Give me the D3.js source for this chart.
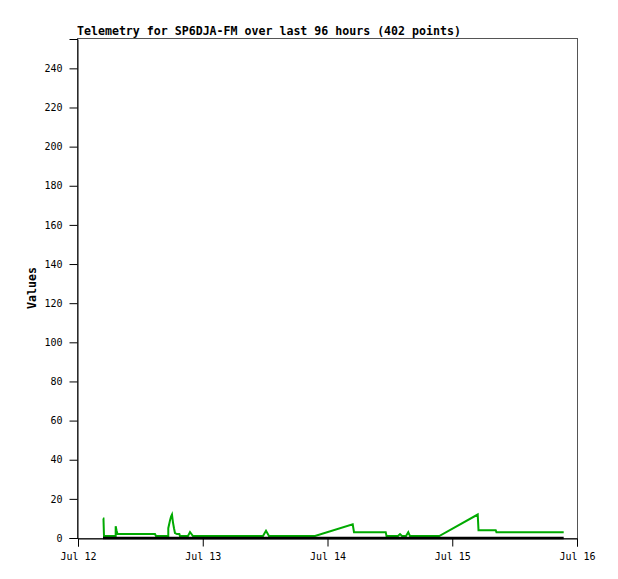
<!DOCTYPE html>
<html><head><meta charset="utf-8">
<script src="https://cdn.jsdelivr.net/npm/d3@7"></script>
<style>body{margin:0;background:#fff}</style>
</head><body>
<svg id="c" width="618" height="579"></svg>
<script>
const title = "Telemetry for SP6DJA-FM over last 96 hours (402 points)";
const yLabel = "Values";
const startDate = new Date(2024, 6, 12, 0, 0);
const endDate = new Date(2024, 6, 16, 0, 0);
const xTickLabels = ["Jul 12", "Jul 13", "Jul 14", "Jul 15", "Jul 16"];
const yTicks = [0, 20, 40, 60, 80, 100, 120, 140, 160, 180, 200, 220, 240];
const yMax = 255;
// green series: hours since Jul 12 00:00, values
const greenHours = [4.81, 4.9, 5.0, 7.25, 7.25, 7.4, 7.6, 14.81, 15.0, 17.37, 17.37, 17.7, 17.9, 18.08, 18.27, 18.47, 18.66, 19.05, 19.5, 19.62, 21.16, 21.55, 22.12, 35.59, 36.17, 36.74, 45.6, 52.85, 53.1, 59.2, 59.35, 61.56, 61.95, 62.33, 63.1, 63.54, 63.87, 69.5, 76.9, 77.05, 80.36, 80.5, 93.44];
const greenValues = [10, 10, 1, 1, 6, 4, 2, 2, 1, 1, 5, 9, 11, 12, 8, 5, 2.5, 2, 2, 1, 1, 3, 1, 1, 3.7, 1, 1, 7, 3, 3, 1, 1, 2, 1, 1, 3, 1, 1, 12, 4, 4, 3, 3];
// black series
const blackHours = [4.81, 93.44];
const blackValues = [0, 0];

const svg = d3.select("#c");
const L = 77, R = 577, T = 38, B = 538;
const x = d3.scaleTime().domain([startDate, endDate]).range([L + 1, R]);
const y = d3.scaleLinear().domain([0, yMax]).range([B, T + 1]);
const toDate = h => new Date(startDate.getTime() + h * 3600e3);

svg.append("text").attr("x", 77).attr("y", 35)
  .attr("font-family", "DejaVu Sans Mono, monospace").attr("font-weight", "bold")
  .attr("font-size", "11.6px").attr("fill", "#000").text(title);

svg.append("rect").attr("x", L + 0.5).attr("y", T + 0.5).attr("width", R - L).attr("height", B - T)
  .attr("fill", "none").attr("stroke", "#555");

const line = d3.line().x(d => x(toDate(d[0]))).y(d => y(d[1]));
svg.append("path").datum(greenHours.map((h, i) => [h, greenValues[i]]))
  .attr("d", line).attr("fill", "none").attr("stroke", "#00aa00").attr("stroke-width", 2);
svg.append("path").datum(blackHours.map((h, i) => [h, blackValues[i]]))
  .attr("d", line).attr("fill", "none").attr("stroke", "#000").attr("stroke-width", 2.5);

const yAxis = d3.axisLeft(y).tickValues(yTicks).tickSize(8).tickPadding(7);
const gy = svg.append("g").attr("transform", `translate(${L + 0.5},0)`).call(yAxis);
gy.select(".domain").attr("stroke", "#000");
gy.selectAll("text").attr("font-family", "DejaVu Sans Mono, monospace").attr("font-size", "10px").attr("fill", "#000");

const xTickDates = xTickLabels.map((_, i) => new Date(startDate.getTime() + i * 86400e3));
const xAxis = d3.axisBottom(x).tickValues(xTickDates).tickFormat((d, i) => xTickLabels[i]).tickSize(8).tickPadding(6);
const gx = svg.append("g").attr("transform", `translate(0,${B + 0.5})`).call(xAxis);
gx.select(".domain").attr("stroke", "#000");
gx.selectAll("text").attr("font-family", "DejaVu Sans Mono, monospace").attr("font-size", "10px").attr("fill", "#000");

svg.append("text").attr("transform", `translate(36,${(T + B) / 2}) rotate(-90)`)
  .attr("text-anchor", "middle")
  .attr("font-family", "DejaVu Sans Mono, monospace").attr("font-weight", "bold")
  .attr("font-size", "11.6px").attr("fill", "#000").text(yLabel);
</script>
</body></html>
